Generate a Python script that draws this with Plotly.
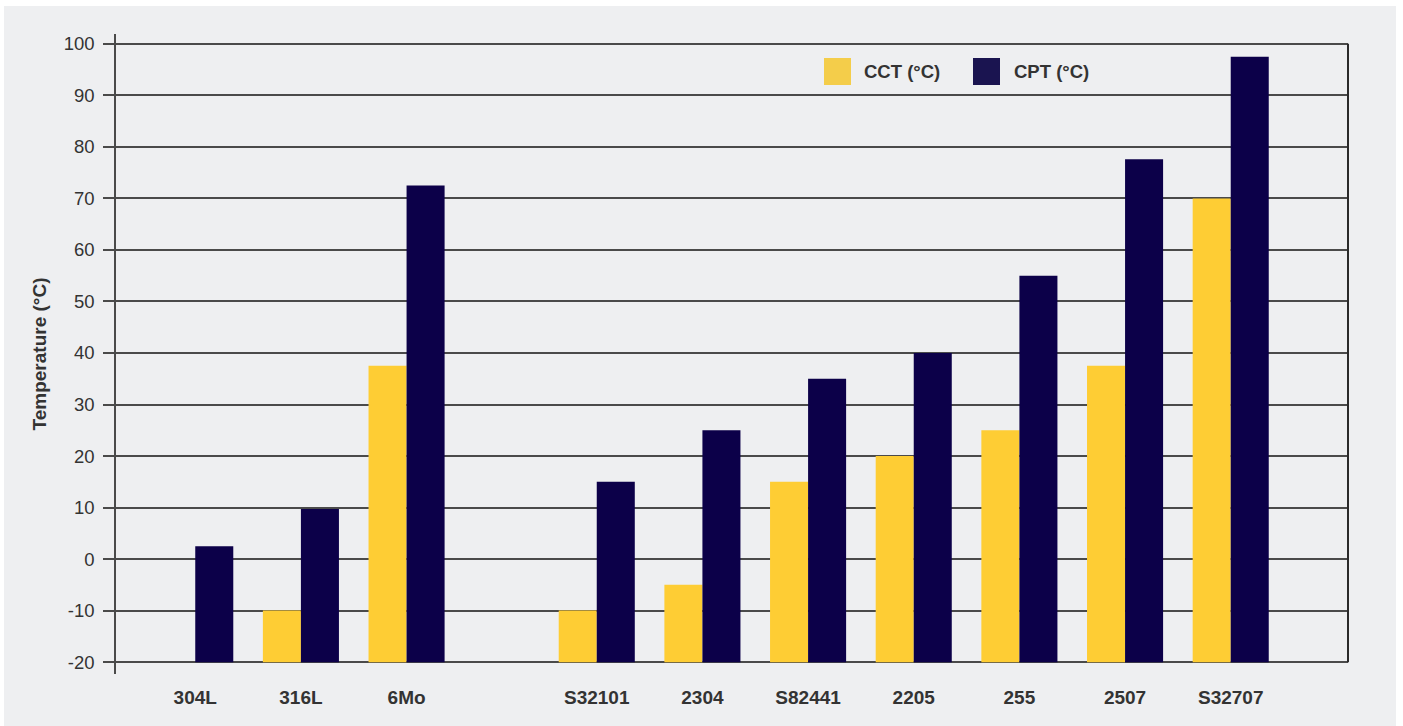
import plotly.graph_objects as go

# ---- data ----
GRADES = ["304L", "316L", "6Mo", "S32101", "2304", "S82441", "2205", "255", "2507", "S32707"]
CCT = [None, -10, 37.5, -10, -5, 15, 20, 25, 37.5, 70]
CPT = [2.5, 9.7, 72.5, 15, 25, 35, 40, 55, 77.6, 97.5]
Y_TICKS = list(range(-20, 101, 10))

SERIES_NAMES = ["CCT (°C)", "CPT (°C)"]
BAR_COLORS = ["#fecd34", "#0c0049"]
LEGEND_COLORS = ["#f4cd4a", "#1a1450"]

# ---- layout helpers ----
GAP_INDEX = 3      # empty slot between the austenitic and duplex groups
GAP_WIDTH = 0.8
BASE = Y_TICKS[0]
xpos = [i + (GAP_WIDTH if i >= GAP_INDEX else 0) for i in range(len(GRADES))]

W, H = 1403, 726
L, R, T, B = 116, 55, 34, 52
PW, PH = W - L - R, H - T - B

def px_x(px):
    return (px - L) / PW

def px_y(py):
    return (H - B - py) / PH

FONT = "Liberation Sans, Arial, sans-serif"
TXT = "#333333"
GRID = "#4a4a4a"

fig = go.Figure()
for name, vals, col in zip(SERIES_NAMES, [CCT, CPT], BAR_COLORS):
    fig.add_trace(go.Bar(
        x=xpos,
        y=[None if v is None else v - BASE for v in vals],
        base=BASE,
        name=name,
        marker=dict(color=col, line=dict(width=0)),
        customdata=[[g, v] for g, v in zip(GRADES, vals)],
        hovertemplate="%{customdata[0]}: %{customdata[1]}<extra>" + name + "</extra>",
        showlegend=False,
    ))

shapes = [
    # grey panel
    dict(type="rect", xref="paper", yref="paper", layer="below",
         x0=px_x(4), x1=px_x(1396), y0=px_y(726), y1=px_y(6),
         fillcolor="#eeeff1", line=dict(width=0)),
    # right frame line over grid range
    dict(type="line", xref="paper", yref="y", x0=1, x1=1,
         y0=Y_TICKS[0], y1=Y_TICKS[-1], line=dict(color="#2a2a2a", width=2)),
]
annotations = []
legend_items = [(824, 862), (973, 1012)]
for (sx, tx), name, col in zip(legend_items, SERIES_NAMES, LEGEND_COLORS):
    shapes.append(dict(type="rect", xref="paper", yref="paper",
                       x0=px_x(sx), x1=px_x(sx + 27), y0=px_y(85), y1=px_y(58),
                       fillcolor=col, line=dict(width=0)))
    annotations.append(dict(xref="paper", yref="paper", x=px_x(tx), y=px_y(71.5),
                            xanchor="left", yanchor="middle", showarrow=False,
                            text="<b>" + name + "</b>",
                            font=dict(family=FONT, size=18.5, color=TXT)))

fig.update_layout(
    width=W, height=H,
    margin=dict(l=L, r=R, t=T, b=B, pad=0),
    paper_bgcolor="white",
    plot_bgcolor="rgba(0,0,0,0)",
    barmode="group",
    bargap=0.28,
    bargroupgap=0,
    shapes=shapes,
    annotations=annotations,
    showlegend=False,
    xaxis=dict(
        range=[-0.75, 10.91],
        tickvals=xpos,
        ticktext=["<b>" + g + "</b>" for g in GRADES],
        showgrid=False, zeroline=False, showline=False, ticks="",
        tickfont=dict(family=FONT, size=19, color=TXT),
        ticklabelstandoff=10,
    ),
    yaxis=dict(
        range=[-22.3, 101.9],
        tickvals=Y_TICKS,
        ticktext=[str(t) for t in Y_TICKS],
        showgrid=True, gridcolor=GRID, gridwidth=1.6,
        zeroline=False,
        showline=True, linecolor=GRID, linewidth=1.6,
        ticks="outside", ticklen=11, tickcolor=GRID, tickwidth=1.6,
        tickfont=dict(family=FONT, size=18.5, color=TXT),
        ticklabelstandoff=5,
        title=dict(text="<b>Temperature (°C)</b>", standoff=12,
                   font=dict(family=FONT, size=19, color=TXT)),
    ),
)

fig.write_html(
    "out.html",
    config={"displayModeBar": False},
    post_script="document.body.style.margin='0';document.body.style.overflow='hidden';",
)
